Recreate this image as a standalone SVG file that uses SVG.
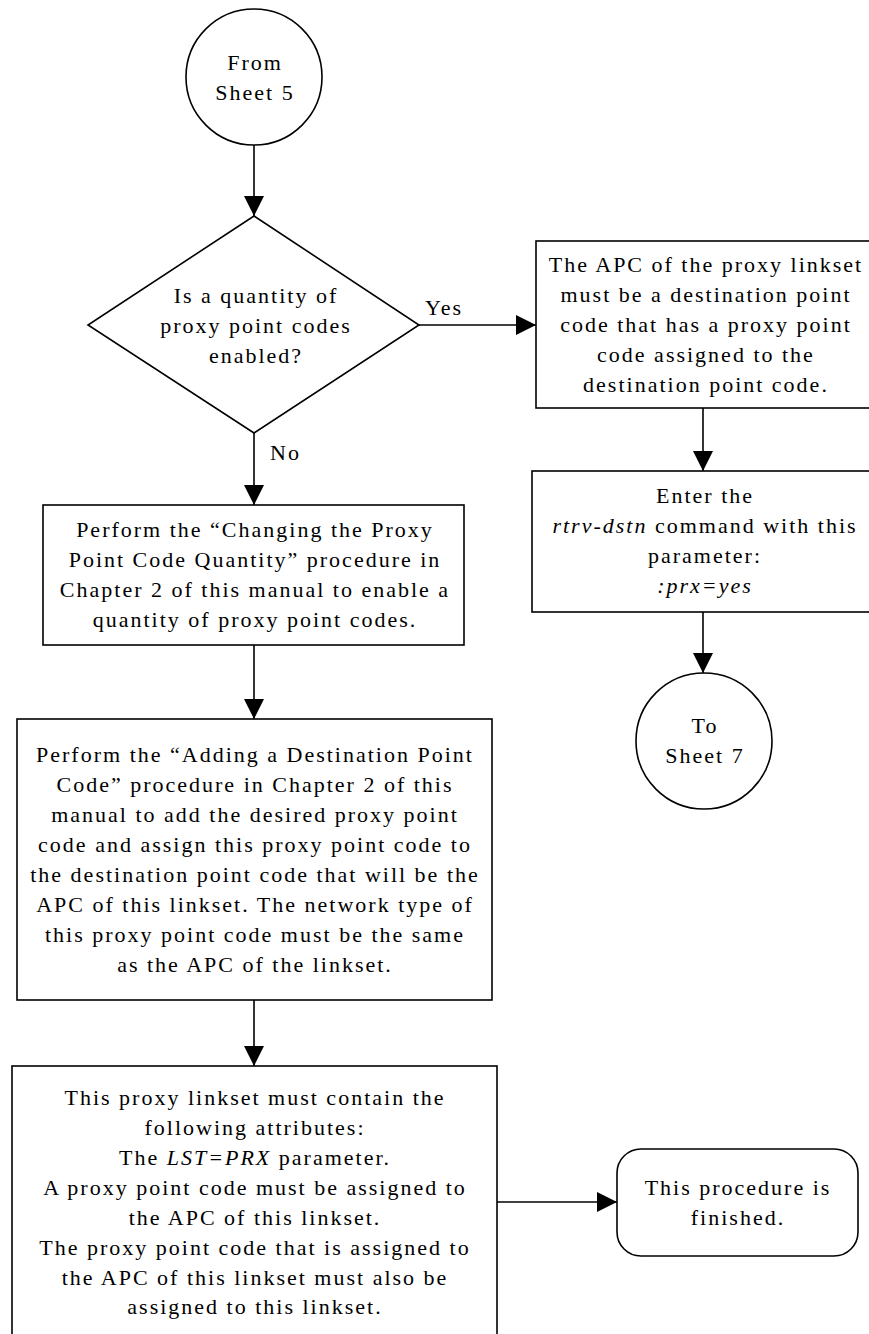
<svg xmlns="http://www.w3.org/2000/svg" width="869" height="1334" viewBox="0 0 869 1334">
<defs>
<marker id="arr" markerUnits="userSpaceOnUse" markerWidth="20" markerHeight="20" viewBox="0 0 18 18" refX="18" refY="9" orient="auto">
<path d="M0,0 L18,9 L0,18 Z" fill="#000"/>
</marker>
<style>
.shape{fill:#fff;stroke:#000;stroke-width:1.6}
.conn{fill:none;stroke:#000;stroke-width:1.6;marker-end:url(#arr)}
.line{fill:none;stroke:#000;stroke-width:1.6}
text{font-family:"Liberation Serif","Times New Roman",serif;font-size:22px;letter-spacing:2px;fill:#000}
.c{text-anchor:middle}
.i{font-style:italic}
</style>
</defs>
<rect width="869" height="1334" fill="#fff"/>
<g id="connectors">
<line class="conn" x1="254" y1="145" x2="254" y2="216"/>
<line class="conn" x1="419" y1="325" x2="536" y2="325"/>
<line class="conn" x1="254" y1="433" x2="254" y2="505"/>
<line class="conn" x1="254" y1="645" x2="254" y2="719"/>
<line class="conn" x1="254" y1="1000" x2="254" y2="1066"/>
<line class="conn" x1="703" y1="408" x2="703" y2="471"/>
<line class="conn" x1="703" y1="612" x2="703" y2="673"/>
<line class="conn" x1="497" y1="1202" x2="617" y2="1202"/>
<text x="425" y="315">Yes</text>
<text x="270" y="460">No</text>
</g>
<g id="from5">
<circle class="shape" cx="254" cy="77" r="68"/>
<text class="c" x="255" y="70">From</text>
<text class="c" x="255" y="100">Sheet 5</text>
</g>
<g id="decision">
<polygon class="shape" points="254,216 419,325 254,433 88,325"/>
<text class="c" x="256" y="303">Is a quantity of</text>
<text class="c" x="256" y="333">proxy point codes</text>
<text class="c" x="256" y="363">enabled?</text>
</g>
<g id="apcbox">
<rect class="shape" x="536" y="241" width="345" height="167"/>
<text class="c" x="706" y="272">The APC of the proxy linkset</text>
<text class="c" x="706" y="302">must be a destination point</text>
<text class="c" x="706" y="332">code that has a proxy point</text>
<text class="c" x="706" y="362">code assigned to the</text>
<text class="c" x="706" y="392">destination point code.</text>
</g>
<g id="rtrvbox">
<rect class="shape" x="532" y="471" width="349" height="141"/>
<text class="c" x="705" y="503">Enter the</text>
<text class="c" x="705" y="533"><tspan class="i">rtrv-dstn</tspan> command with this</text>
<text class="c" x="705" y="563">parameter:</text>
<text class="c i" x="705" y="593">:prx=yes</text>
</g>
<g id="to7">
<circle class="shape" cx="704" cy="741" r="68"/>
<text class="c" x="705" y="733">To</text>
<text class="c" x="705" y="763">Sheet 7</text>
</g>
<g id="changebox">
<rect class="shape" x="43" y="505" width="421" height="140"/>
<text class="c" x="255" y="537">Perform the “Changing the Proxy</text>
<text class="c" x="255" y="567">Point Code Quantity” procedure in</text>
<text class="c" x="255" y="597">Chapter 2 of this manual to enable a</text>
<text class="c" x="255" y="627">quantity of proxy point codes.</text>
</g>
<g id="addbox">
<rect class="shape" x="17" y="719" width="475" height="281"/>
<text class="c" x="255" y="762">Perform the “Adding a Destination Point</text>
<text class="c" x="255" y="792">Code” procedure in Chapter 2 of this</text>
<text class="c" x="255" y="822">manual to add the desired proxy point</text>
<text class="c" x="255" y="852">code and assign this proxy point code to</text>
<text class="c" x="255" y="882">the destination point code that will be the</text>
<text class="c" x="255" y="912">APC of this linkset. The network type of</text>
<text class="c" x="255" y="942">this proxy point code must be the same</text>
<text class="c" x="255" y="972">as the APC of the linkset.</text>
</g>
<g id="attrbox">
<rect class="shape" x="12" y="1066" width="485" height="290"/>
<text class="c" x="255" y="1105">This proxy linkset must contain the</text>
<text class="c" x="255" y="1135">following attributes:</text>
<text class="c" x="255" y="1165">The <tspan class="i">LST=PRX</tspan> parameter.</text>
<text class="c" x="255" y="1195">A proxy point code must be assigned to</text>
<text class="c" x="255" y="1225">the APC of this linkset.</text>
<text class="c" x="255" y="1255">The proxy point code that is assigned to</text>
<text class="c" x="255" y="1285">the APC of this linkset must also be</text>
<text class="c" x="255" y="1314">assigned to this linkset.</text>
</g>
<g id="finished">
<rect class="shape" x="617" y="1149" width="241" height="107" rx="24" ry="24"/>
<text class="c" x="738" y="1195">This procedure is</text>
<text class="c" x="738" y="1225">finished.</text>
</g>
</svg>
